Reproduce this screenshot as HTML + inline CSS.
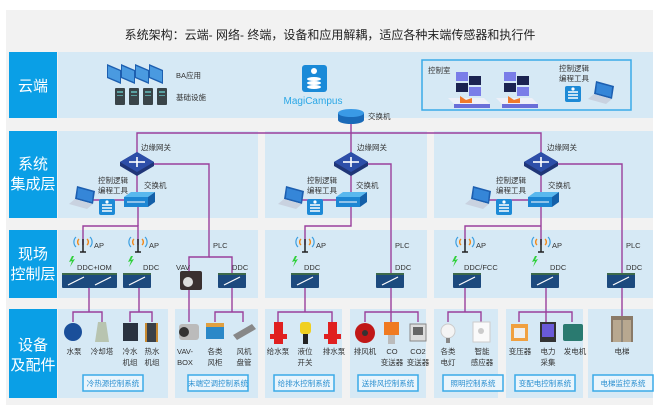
<!DOCTYPE html>
<html><head><meta charset="utf-8">
<style>
html,body{margin:0;padding:0;background:#fff;}
svg{display:block;}
text{font-family:"Liberation Sans","Noto Sans CJK SC",sans-serif;}
.s{font-size:7.5px;fill:#333;}
.lb{font-size:15px;fill:#fff;}
.bt{font-size:7.5px;fill:#2a8fd0;}
</style></head>
<body>
<svg width="661" height="411" viewBox="0 0 661 411" xmlns="http://www.w3.org/2000/svg">
<defs>
<g id="gw">
 <polygon points="-17,-1 0,-11 17,-1 17,3 0,13 -17,3" fill="#1f3577"/>
 <polygon points="-17,-1 0,-11 17,-1 0,9" fill="#2d4ea8"/>
 <g stroke="#fff" stroke-width="1.6"><line x1="-8" y1="-1" x2="8" y2="-1"/><line x1="0" y1="-6" x2="0" y2="4"/></g>
</g>
<g id="sw">
 <polygon points="-15,-3 -8,-8 16,-8 9,-3" fill="#59b8ee"/>
 <polygon points="-15,-3 9,-3 9,7 -15,7" fill="#1c86d3"/>
 <polygon points="9,-3 16,-8 16,2 9,7" fill="#135fa8"/>
 <line x1="-12" y1="2" x2="6" y2="2" stroke="#fff" stroke-width="1"/>
</g>
<g id="ddc">
 <rect x="-14" y="-8" width="28" height="15" rx="1" fill="#1c4a7e"/>
 <rect x="-14" y="-8" width="28" height="2" fill="#3d6a4a"/>
 <line x1="-8" y1="4" x2="8" y2="-4" stroke="#fff" stroke-width="1.2"/>
</g>
<g id="ap">
 <line x1="0" y1="-6" x2="0" y2="7" stroke="#222" stroke-width="1.5"/>
 <line x1="-3" y1="7" x2="3" y2="7" stroke="#222" stroke-width="1.5"/>
 <path d="M-4,-6 a4,4 0 0 0 0,6 M4,-6 a4,4 0 0 1 0,6" stroke="#f08a1c" stroke-width="1.4" fill="none"/>
 <path d="M-7,-8 a7,7 0 0 0 0,10 M7,-8 a7,7 0 0 1 0,10" stroke="#3a9ee0" stroke-width="1.2" fill="none"/>
</g>
<g id="srv">
 <rect x="-8" y="-8" width="16" height="16" rx="2" fill="#1d8ad6"/>
 <g stroke="#fff" stroke-width="1.5"><line x1="-5" y1="-2" x2="5" y2="-2"/><line x1="-5" y1="1" x2="5" y2="1"/><line x1="-5" y1="4" x2="5" y2="4"/></g>
 <circle cx="0" cy="-5" r="1.6" fill="#fff"/>
</g>
<g id="lap">
 <polygon points="-8,-12 10,-7 8,6 -10,1" fill="#1d5fb0"/>
 <polygon points="-7,-10 8,-6 7,4 -8,0" fill="#3586d8"/>
 <polygon points="-10,1 8,6 2,11 -16,6" fill="#c9d2e0"/>
</g>
<g id="ws">
 <rect x="-14" y="-18" width="12" height="9" fill="#7a7de8"/>
 <rect x="-1" y="-14" width="12" height="9" fill="#1b2350"/>
 <rect x="-14" y="-7" width="12" height="9" fill="#1b2350"/>
 <rect x="-1" y="-3" width="12" height="9" fill="#7a7de8"/>
 <polygon points="-22,8 14,8 20,14 -16,14" fill="#eef0f8"/>
 <rect x="-16" y="14" width="36" height="4" fill="#6a6ed8"/>
 <path d="M-10,6 l6,4 l6,-2 l0,5 l-12,0 z" fill="#f07a2a"/>
</g>
<g id="mon">
 <polygon points="0,0 14,6 14,20 0,14" fill="#1d5fb0"/>
 <polygon points="1,2 13,7 13,18 1,13" fill="#4a9ae0"/>
</g>
<g id="tower">
 <rect x="0" y="0" width="10" height="17" rx="1" fill="#3a4448"/>
 <rect x="2" y="3" width="6" height="2" fill="#5aa0a0"/>
 <rect x="2" y="7" width="6" height="1" fill="#5aa0a0"/>
</g>
<g id="btn">
 <rect x="0" y="0" width="60" height="16" fill="#eaf5fc" stroke="#3aaae8" stroke-width="1.5"/>
</g>
<g id="bolt"><polygon points="0,0 -3,6 0,5 -2,11 3,3 0,4 2,0" fill="#2fd03a"/></g>
</defs>

<rect x="0" y="0" width="661" height="411" fill="#fff"/>
<rect x="6" y="10" width="647" height="395" fill="#f2f2f2"/>
<text x="330" y="39" text-anchor="middle" font-size="12" fill="#222">系统架构：云端- 网络- 终端，设备和应用解耦，适应各种末端传感器和执行件</text>

<rect x="9" y="52" width="48" height="66" fill="#0a9fe6"/>
<rect x="9" y="131" width="48" height="87" fill="#0a9fe6"/>
<rect x="9" y="230" width="48" height="68" fill="#0a9fe6"/>
<rect x="9" y="309" width="48" height="89" fill="#0a9fe6"/>
<text class="lb" x="33" y="91" text-anchor="middle">云端</text>
<text class="lb" x="33" y="169" text-anchor="middle">系统</text>
<text class="lb" x="33" y="189" text-anchor="middle">集成层</text>
<text class="lb" x="33" y="259" text-anchor="middle">现场</text>
<text class="lb" x="33" y="279" text-anchor="middle">控制层</text>
<text class="lb" x="33" y="350" text-anchor="middle">设备</text>
<text class="lb" x="33" y="370" text-anchor="middle">及配件</text>

<g fill="#d6e9f5">
<rect x="58" y="52" width="595" height="66"/>
<rect x="58" y="131" width="200" height="87"/>
<rect x="265" y="131" width="162" height="87"/>
<rect x="434" y="131" width="219" height="87"/>
<rect x="58" y="230" width="200" height="68"/>
<rect x="265" y="230" width="162" height="68"/>
<rect x="434" y="230" width="219" height="68"/>
<rect x="58" y="309" width="110" height="89"/>
<rect x="175" y="309" width="83" height="89"/>
<rect x="265" y="309" width="77" height="89"/>
<rect x="350" y="309" width="76" height="89"/>
<rect x="434" y="309" width="64" height="89"/>
<rect x="506" y="309" width="77" height="89"/>
<rect x="588" y="309" width="65" height="89"/>
</g>

<use href="#mon" x="107" y="64"/><use href="#mon" x="121" y="64"/><use href="#mon" x="135" y="64"/><use href="#mon" x="149" y="64"/>
<use href="#tower" x="115" y="88"/><use href="#tower" x="129" y="88"/><use href="#tower" x="143" y="88"/><use href="#tower" x="157" y="88"/>
<text class="s" x="176" y="78">BA应用</text>
<text class="s" x="176" y="100">基础设施</text>
<rect x="302" y="65" width="25" height="27" rx="3" fill="#1a8ad8"/>
<g fill="#fff"><ellipse cx="314" cy="79" rx="7" ry="2"/><ellipse cx="314" cy="83" rx="7" ry="2"/><ellipse cx="314" cy="87" rx="7" ry="2"/><circle cx="314" cy="71" r="3"/></g>
<text x="313" y="104" text-anchor="middle" font-size="10" fill="#2aa7e6">MagiCampus</text>
<rect x="422" y="60" width="209" height="50" fill="none" stroke="#3aaae8" stroke-width="1.5"/>
<text class="s" x="428" y="73">控制室</text>
<use href="#ws" x="470" y="90"/><use href="#ws" x="518" y="90"/>
<text class="s" x="559" y="71">控制逻辑</text>
<text class="s" x="559" y="81">编程工具</text>
<use href="#srv" x="573" y="94"/>
<use href="#lap" x="604" y="93"/>

<g stroke="#9a3f9c" stroke-width="1.4" fill="none">
<line x1="351" y1="118" x2="351" y2="200"/>
<polyline points="137,163 137,133 541,133 541,163"/>
<polyline points="137,163 137,200 138,200 138,226"/>
<polyline points="83,245 83,226 138,226 138,245"/>
<polyline points="153,164 209,164 209,257 189,257 189,275"/>
<polyline points="209,257 232,257 232,275"/>
<polyline points="351,200 351,226 305,226 305,245"/>
<polyline points="366,164 391,164 391,280"/>
<polyline points="541,163 541,245"/>
<polyline points="465,245 465,226 541,226"/>
<polyline points="556,164 622,164 622,280"/>
<line x1="84" y1="200" x2="138" y2="200"/>
<line x1="290" y1="200" x2="351" y2="200"/>
<line x1="478" y1="200" x2="541" y2="200"/>
<polyline points="89,288 89,312"/><polyline points="73,322 73,312 102,312 102,322"/>
<polyline points="139,288 139,312"/><polyline points="130,322 130,312 152,312 152,322"/>
<line x1="189" y1="290" x2="189" y2="322"/>
<polyline points="232,288 232,312"/><polyline points="215,322 215,312 243,312 243,322"/>
<polyline points="305,288 305,312"/><polyline points="278,322 278,312 332,312 332,322"/>
<polyline points="391,288 391,322"/><polyline points="365,322 365,312 418,312 418,322"/>
<polyline points="465,288 465,312"/><polyline points="448,322 448,312 481,312 481,322"/>
<polyline points="546,288 546,322"/><polyline points="519,322 519,312 572,312 572,322"/>
<line x1="622" y1="288" x2="622" y2="322"/>
</g>

<ellipse cx="351" cy="120" rx="13" ry="4" fill="#1a6ab8"/>
<rect x="338" y="113" width="26" height="7" fill="#1a6ab8"/>
<ellipse cx="351" cy="113" rx="13" ry="4" fill="#3a9ae6"/>
<text class="s" x="368" y="119">交换机</text>

<use href="#gw" x="137" y="163"/><use href="#gw" x="351" y="163"/><use href="#gw" x="541" y="163"/>
<text class="s" x="141" y="150">边缘网关</text><text class="s" x="357" y="150">边缘网关</text><text class="s" x="547" y="150">边缘网关</text>
<use href="#sw" x="139" y="200"/><use href="#sw" x="351" y="200"/><use href="#sw" x="543" y="200"/>
<text class="s" x="144" y="188">交换机</text><text class="s" x="356" y="188">交换机</text><text class="s" x="548" y="188">交换机</text>
<text class="s" x="98" y="183">控制逻辑</text><text class="s" x="98" y="193">编程工具</text>
<text class="s" x="307" y="183">控制逻辑</text><text class="s" x="307" y="193">编程工具</text>
<text class="s" x="496" y="183">控制逻辑</text><text class="s" x="496" y="193">编程工具</text>
<use href="#lap" x="85" y="198"/><use href="#srv" x="107" y="207"/>
<use href="#lap" x="294" y="198"/><use href="#srv" x="315" y="207"/>
<use href="#lap" x="481" y="198"/><use href="#srv" x="504" y="207"/>

<use href="#ap" x="83" y="245"/><use href="#ap" x="138" y="245"/><use href="#ap" x="305" y="245"/><use href="#ap" x="465" y="245"/><use href="#ap" x="541" y="245"/>
<text class="s" x="94" y="248">AP</text><text class="s" x="149" y="248">AP</text><text class="s" x="316" y="248">AP</text><text class="s" x="476" y="248">AP</text><text class="s" x="552" y="248">AP</text>
<text class="s" x="213" y="248">PLC</text><text class="s" x="395" y="248">PLC</text><text class="s" x="626" y="248">PLC</text>
<use href="#bolt" x="72" y="256"/><use href="#bolt" x="131" y="256"/><use href="#bolt" x="295" y="256"/><use href="#bolt" x="455" y="256"/><use href="#bolt" x="535" y="256"/>
<text class="s" x="77" y="270">DDC+IOM</text><text class="s" x="143" y="270">DDC</text><text class="s" x="176" y="270">VAV</text><text class="s" x="232" y="270">DDC</text>
<text class="s" x="304" y="270">DDC</text><text class="s" x="395" y="270">DDC</text>
<text class="s" x="464" y="270">DDC/FCC</text><text class="s" x="550" y="270">DDC</text><text class="s" x="626" y="270">DDC</text>
<use href="#ddc" x="76" y="281"/><use href="#ddc" x="103" y="281"/><use href="#ddc" x="137" y="281"/><use href="#ddc" x="232" y="281"/>
<use href="#ddc" x="305" y="281"/><use href="#ddc" x="390" y="281"/><use href="#ddc" x="467" y="281"/><use href="#ddc" x="545" y="281"/><use href="#ddc" x="621" y="281"/>
<rect x="180" y="271" width="22" height="19" rx="2" fill="#3a3030"/><circle cx="188" cy="282" r="5" fill="#ddd"/>

<circle cx="73" cy="332" r="9" fill="#1a4f9a"/>
<polygon points="95,342 109,342 106,322 98,322" fill="#b8c4b0"/>
<rect x="123" y="323" width="15" height="18" fill="#2a3340"/>
<rect x="145" y="323" width="13" height="19" fill="#c88a30"/><rect x="147" y="323" width="9" height="19" fill="#3a4048"/>
<rect x="179" y="324" width="20" height="16" rx="3" fill="#bbb"/><circle cx="184" cy="332" r="5" fill="#333"/>
<rect x="206" y="323" width="18" height="16" fill="#2a88c8"/><rect x="206" y="323" width="18" height="4" fill="#e0a040"/>
<polygon points="233,335 252,324 256,329 237,340" fill="#888"/>
<rect x="274" y="322" width="9" height="22" fill="#e02020"/><rect x="270" y="334" width="17" height="5" fill="#e02020"/>
<rect x="300" y="322" width="11" height="12" rx="3" fill="#f0d020"/><rect x="303" y="334" width="5" height="10" fill="#222"/>
<rect x="328" y="322" width="9" height="22" fill="#e02020"/><rect x="324" y="334" width="17" height="5" fill="#e02020"/>
<circle cx="365" cy="333" r="10" fill="#c01818"/><circle cx="365" cy="333" r="3" fill="#333"/>
<rect x="384" y="322" width="15" height="13" fill="#f07a20"/><rect x="388" y="335" width="7" height="9" fill="#bbb"/>
<rect x="410" y="324" width="16" height="17" fill="#ddd" stroke="#888"/><rect x="413" y="327" width="10" height="8" fill="#666"/>
<circle cx="448" cy="331" r="7" fill="#f4f4f4" stroke="#ccc"/><rect x="446" y="338" width="4" height="5" fill="#888"/>
<rect x="473" y="322" width="17" height="20" fill="#fafafa" stroke="#ccc"/><circle cx="481" cy="331" r="3" fill="#ccc"/>
<rect x="511" y="324" width="17" height="17" fill="#f0a040"/><rect x="514" y="328" width="11" height="10" fill="#eee"/>
<rect x="540" y="322" width="16" height="20" fill="#333"/><rect x="542" y="324" width="12" height="13" fill="#6a5ad8"/>
<rect x="563" y="324" width="20" height="17" rx="2" fill="#2a7a70"/>
<rect x="611" y="316" width="22" height="26" fill="#8a7a68"/><rect x="613" y="320" width="18" height="22" fill="#b8a890"/><line x1="622" y1="320" x2="622" y2="342" stroke="#666"/>

<g class="s" text-anchor="middle">
<text x="74" y="354">水泵</text><text x="102" y="354">冷却塔</text><text x="130" y="354">冷水</text><text x="130" y="365">机组</text><text x="152" y="354">热水</text><text x="152" y="365">机组</text>
<text x="185" y="354">VAV-</text><text x="185" y="365">BOX</text><text x="215" y="354">各类</text><text x="215" y="365">风柜</text><text x="244" y="354">风机</text><text x="244" y="365">盘管</text>
<text x="278" y="354">给水泵</text><text x="305" y="354">液位</text><text x="305" y="365">开关</text><text x="334" y="354">排水泵</text>
<text x="365" y="354">排风机</text><text x="392" y="354">CO</text><text x="392" y="365">变送器</text><text x="418" y="354">CO2</text><text x="418" y="365">变送器</text>
<text x="448" y="354">各类</text><text x="448" y="365">电灯</text><text x="482" y="354">智能</text><text x="482" y="365">感应器</text>
<text x="520" y="354">变压器</text><text x="548" y="354">电力</text><text x="548" y="365">采集</text><text x="575" y="354">发电机</text>
<text x="622" y="354">电梯</text>
</g>

<use href="#btn" x="83" y="375"/><use href="#btn" x="188" y="375"/><use href="#btn" x="274" y="375"/><use href="#btn" x="358" y="375"/>
<use href="#btn" x="443" y="375"/><use href="#btn" x="515" y="375"/><use href="#btn" x="593" y="375"/>
<g class="bt" text-anchor="middle">
<text x="113" y="386">冷热源控制系统</text><text x="218" y="386">末端空调控制系统</text><text x="304" y="386">给排水控制系统</text><text x="388" y="386">送排风控制系统</text>
<text x="473" y="386">照明控制系统</text><text x="545" y="386">变配电控制系统</text><text x="623" y="386">电梯监控系统</text>
</g>
</svg>
</body></html>
